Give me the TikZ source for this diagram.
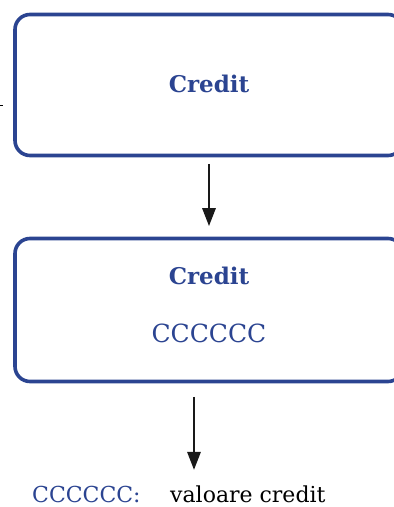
\documentclass[tikz,border=0pt]{standalone}
\usepackage{fontspec}
\setmainfont{DejaVu Serif}
\usepackage{xcolor}
\usetikzlibrary{arrows.meta,positioning}

\definecolor{creditblue}{RGB}{43,68,145}

\begin{document}
\begin{tikzpicture}[x=1pt,y=1pt,>={Triangle[length=18pt,width=13pt]},
    box/.style={draw=creditblue,line width=3.6pt,rounded corners=15pt,minimum width=388pt},
    title/.style={anchor=base,text=creditblue,font=\fontsize{23}{27}\selectfont\bfseries},
    code/.style={anchor=base,text=creditblue,font=\fontsize{25}{30}\selectfont},
    flow/.style={->,line width=2.8pt,black!90}]
  \useasboundingbox (0,0) rectangle (394,507);

  \node[box,minimum height=141pt] (box1) at (209,422) {};
  \node[box,minimum height=143pt] (box2) at (209,197) {};

  \node[title] (credit1) at (209,414) {Credit};
  \node[title] (credit2) at (209,222) {Credit};
  \node[code] (cod) at (209,164) {CCCCCC};

  % legenda
  \node[anchor=base west,text=creditblue,font=\fontsize{22}{26}\selectfont,inner sep=0pt]
    (legcod) at (32,5) {CCCCCC:};
  \node[anchor=base west,font=\fontsize{22}{26}\selectfont,inner sep=0pt]
    (legtext) at (170,5) {valoare credit};

  \coordinate (out) at (194,37);
  \coordinate (instart) at (0,402);
  \coordinate (inend) at (3,402);

  \draw[flow,shorten <=6.5pt,shorten >=10.5pt] (box1) -- (box2);
  \draw[flow,shorten <=13.5pt] ([xshift=-15pt]box2.south) -- (out);
  \draw[line width=0.8pt] (instart) -- (inend);
\end{tikzpicture}
\end{document}
